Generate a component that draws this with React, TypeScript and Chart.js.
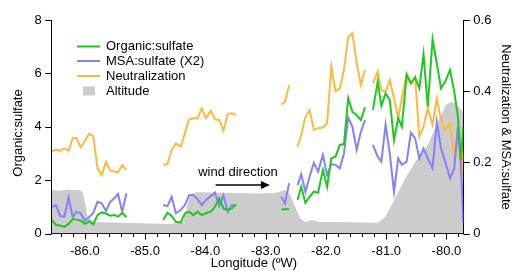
import React, { useEffect, useRef } from "react";
import { Chart, registerables } from "chart.js";

Chart.register(...registerables);

// Longitude (ºW) of the aircraft samples; null values in the series break the lines
const longitude = [
  -86.55, -86.48, -86.41, -86.34, -86.27, -86.2, -86.14, -86.07, -86.0, -85.93,
  -85.86, -85.79, -85.72, -85.65, -85.58, -85.51, -85.45, -85.38, -85.31,
  -85.0,
  -84.7, -84.63, -84.56, -84.49, -84.41, -84.34, -84.27, -84.2, -84.13, -84.06,
  -83.99, -83.91, -83.84, -83.77, -83.7, -83.63, -83.56, -83.49,
  -83.1,
  -82.74, -82.68, -82.61,
  -82.54,
  -82.47, -82.41, -82.34, -82.27, -82.2, -82.13, -82.05, -81.98, -81.91, -81.84,
  -81.77, -81.7, -81.63, -81.56, -81.49, -81.42, -81.35,
  -81.28,
  -81.22, -81.14, -81.08, -81.01, -80.94, -80.87, -80.8, -80.74, -80.66, -80.59,
  -80.52, -80.45, -80.38, -80.31, -80.23, -80.16, -80.09, -80.02, -79.94, -79.87,
  -79.81, -79.76, -79.72,
];

const organicSulfate = [
  0.51, 0.32, 0.3, 0.25, 0.36, 0.54, 0.52, 0.49, 0.36, 0.45,
  0.34, 0.69, 0.79, 0.75, 0.67, 0.69, 0.63, 0.78, 0.61,
  null,
  0.51, 0.78, 0.66, 0.44, 0.41, 0.76, 0.82, 0.69, 0.82, 0.69,
  0.76, 0.82, 1.0, 1.32, 0.94, 0.88, 0.94, 1.1,
  null,
  0.91, 0.91, 0.91,
  null,
  1.26, 1.75, 1.15, 1.38, 1.57, 1.53, 2.38, 1.75, 2.82, 2.88,
  3.32, 3.35, 5.07, 4.56, 4.44, 4.25, 4.73,
  null,
  4.63, 5.69, 4.78, 5.25, 5.0, 3.5, 4.32, 4.0, 5.94, 5.63,
  5.85, 5.44, 6.72, 4.75, 7.28, 6.38, 5.44, 5.69, 6.13, 5.31,
  4.38, 2.75, 4.0,
];

const msaSulfateX2 = [
  0.074, 0.08, 0.049, 0.047, 0.101, 0.046, 0.061, 0.057, 0.036, 0.046,
  0.058, 0.089, 0.085, 0.063, 0.089, 0.099, 0.111, 0.061, 0.113,
  null,
  0.08, 0.077, 0.103, 0.057, 0.066, 0.08, 0.108, 0.108, 0.096, 0.08,
  0.094, 0.105, 0.115, 0.077, 0.108, 0.061, 0.08, 0.077,
  null,
  0.103, 0.085, 0.141,
  null,
  0.136, 0.167, 0.117, 0.16, 0.199, 0.174, 0.221, 0.164, 0.195, 0.193,
  0.183, 0.225, 0.326, 0.3, 0.235, 0.286, 0.319,
  null,
  0.249, 0.216, 0.202, 0.305, 0.225, 0.117, 0.211, 0.193, 0.202, 0.283,
  0.268, 0.211, 0.239, 0.211, 0.183, 0.314, 0.239, 0.202, 0.155, 0.183,
  0.3, 0.197, 0.029,
];

const neutralization = [
  0.232, 0.235, 0.233, 0.239, 0.233, 0.268, 0.269, 0.242, 0.26, 0.28,
  0.274, 0.183, 0.164, 0.201, 0.177, 0.174, 0.172, 0.192, 0.178,
  null,
  0.193, 0.195, 0.235, 0.253, 0.244, 0.282, 0.321, 0.324, 0.324, 0.352,
  0.324, 0.345, 0.321, 0.319, 0.289, 0.336, 0.338, 0.333,
  null,
  0.363, 0.37, 0.417,
  null,
  0.244, 0.277, 0.328, 0.347, 0.291, 0.296, 0.298, 0.31, 0.469, 0.399,
  0.408, 0.46, 0.552, 0.563, 0.48, 0.417, 0.461,
  null,
  0.422, 0.455, 0.403, 0.399, 0.431, 0.38, 0.324, 0.38, 0.45, 0.422,
  0.44, 0.272, 0.3, 0.352, 0.305, 0.38, 0.319, 0.291, 0.31, 0.216,
  0.291, 0.16, 0.227,
];

// Altitude profile (drawn in left-axis units)
const altitudeLon = [
  -86.55, -86.42, -86.3, -86.08, -86.03, -85.95, -85.83, -85.25, -84.59, -84.37,
  -84.26, -84.16, -83.6, -83.1, -82.83, -82.68, -82.6, -82.43, -82.35, -82.23,
  -82.1, -81.77, -81.4, -81.14, -81.03, -80.86, -80.7, -80.53, -80.31, -80.14,
  -80.01, -79.93, -79.86, -79.76, -79.72,
];
const altitude = [
  1.63, 1.6, 1.64, 1.63, 1.52, 0.58, 0.43, 0.39, 0.36, 0.43,
  1.4, 1.55, 1.52, 1.5, 1.52, 1.63, 1.48, 0.58, 0.43, 0.51,
  0.43, 0.43, 0.41, 0.4, 0.58, 1.26, 2.0, 2.64, 3.32, 4.18,
  4.81, 4.93, 4.89, 4.66, 4.55,
];

const xTickValues = [-86, -85, -84, -83, -82, -81, -80];
const leftTickValues = [0, 2, 4, 6, 8];
const rightTickValues = [0, 0.2, 0.4, 0.6];

const seriesLabels = ["Organic:sulfate", "MSA:sulfate (X2)", "Neutralization", "Altitude"];
const seriesColors = ["#1ec81e", "#8282ff", "#ffb840", "#cccccc"];

// wind-direction annotation (data coordinates)
const windText = "wind direction";
const windTextLon = -84.12;
const windTextVal = 2.14;
const windArrowFromLon = -83.83;
const windArrowToLon = -82.93;
const windArrowVal = 1.82;

const FONT = "'Liberation Sans', Arial, Helvetica, sans-serif";

const pts = (xs: number[], ys: (number | null)[]) => xs.map((x, i) => ({ x, y: ys[i] }));

const decorPlugin = {
  id: "decor",
  afterDatasetsDraw(chart: any) {
    const ctx = chart.ctx;
    const xs = chart.scales.x;
    const ys = chart.scales.y;
    ctx.save();
    ctx.fillStyle = "#000";
    ctx.strokeStyle = "#000";
    ctx.font = `13px ${FONT}`;
    ctx.textAlign = "left";
    ctx.textBaseline = "alphabetic";
    ctx.fillText(windText, xs.getPixelForValue(windTextLon), ys.getPixelForValue(windTextVal));
    const ax0 = xs.getPixelForValue(windArrowFromLon);
    const ax1 = xs.getPixelForValue(windArrowToLon);
    const ay = ys.getPixelForValue(windArrowVal);
    ctx.lineWidth = 1.5;
    ctx.beginPath();
    ctx.moveTo(ax0, ay);
    ctx.lineTo(ax1 - 6, ay);
    ctx.stroke();
    ctx.beginPath();
    ctx.moveTo(ax1, ay);
    ctx.lineTo(ax1 - 9, ay - 4);
    ctx.lineTo(ax1 - 9, ay + 4);
    ctx.closePath();
    ctx.fill();
    ctx.restore();
  },
  afterDraw(chart: any) {
    const ctx = chart.ctx;
    const ca = chart.chartArea;
    const xs = chart.scales.x;
    const ys = chart.scales.y;
    const y1 = chart.scales.y1;
    ctx.save();
    ctx.strokeStyle = "#000";
    ctx.lineWidth = 1;
    // x tick marks: minor every 0.2, major at integers
    for (let k = -432; k <= -399; k++) {
      const v = k / 5;
      if (v < xs.min || v > xs.max) continue;
      const px = Math.round(xs.getPixelForValue(v)) + 0.5;
      const major = k % 5 === 0;
      ctx.beginPath();
      ctx.moveTo(px, ca.bottom);
      ctx.lineTo(px, ca.bottom + (major ? 6 : 3.5));
      ctx.stroke();
    }
    for (const v of leftTickValues) {
      const py = Math.round(ys.getPixelForValue(v)) + 0.5;
      ctx.beginPath();
      ctx.moveTo(ca.left, py);
      ctx.lineTo(ca.left - 6.5, py);
      ctx.stroke();
    }
    for (const v of rightTickValues) {
      const py = Math.round(y1.getPixelForValue(v)) + 0.5;
      ctx.beginPath();
      ctx.moveTo(ca.right, py);
      ctx.lineTo(ca.right + 6.5, py);
      ctx.stroke();
    }
    // axis titles
    ctx.fillStyle = "#000";
    ctx.font = `13px ${FONT}`;
    ctx.textAlign = "center";
    ctx.textBaseline = "middle";
    ctx.save();
    ctx.translate(18, 133);
    ctx.rotate(-Math.PI / 2);
    ctx.fillText("Organic:sulfate", 0, 0);
    ctx.restore();
    ctx.save();
    ctx.translate(506, 127);
    ctx.rotate(Math.PI / 2);
    ctx.fillText("Neutralization & MSA:sulfate", 0, 0);
    ctx.restore();
    ctx.textBaseline = "alphabetic";
    ctx.fillText("Longitude (ºW)", 254, 267);
    // legend
    const rows = [46.5, 61, 76, 91];
    ctx.textAlign = "left";
    ctx.textBaseline = "middle";
    for (let i = 0; i < 4; i++) {
      if (i < 3) {
        ctx.strokeStyle = seriesColors[i];
        ctx.lineWidth = 2;
        ctx.beginPath();
        ctx.moveTo(77, rows[i]);
        ctx.lineTo(100, rows[i]);
        ctx.stroke();
      } else {
        ctx.fillStyle = seriesColors[i];
        ctx.fillRect(83, rows[i] - 4.5, 12, 9);
      }
      ctx.fillStyle = "#000";
      ctx.fillText(seriesLabels[i], 106, rows[i]);
    }
    ctx.restore();
  },
};

export default function App() {
  const ref = useRef<HTMLCanvasElement | null>(null);
  useEffect(() => {
    if (!ref.current) return;
    const tickFont = { family: FONT, size: 13 };
    const chart = new Chart(ref.current, {
      type: "line",
      data: {
        datasets: [
          {
            label: seriesLabels[0],
            data: pts(longitude, organicSulfate),
            borderColor: seriesColors[0],
            yAxisID: "y",
          },
          {
            label: seriesLabels[1],
            data: pts(longitude, msaSulfateX2),
            borderColor: seriesColors[1],
            yAxisID: "y1",
          },
          {
            label: seriesLabels[2],
            data: pts(longitude, neutralization),
            borderColor: seriesColors[2],
            yAxisID: "y1",
          },
          {
            label: seriesLabels[3],
            data: pts(altitudeLon, altitude),
            borderColor: seriesColors[3],
            backgroundColor: seriesColors[3],
            borderWidth: 0,
            fill: "origin",
            yAxisID: "y",
          },
        ] as any,
      },
      options: {
        animation: false,
        responsive: false,
        spanGaps: false,
        layout: { padding: { top: 20, left: 0, right: 0, bottom: 0 } },
        elements: {
          point: { radius: 0 },
          line: { tension: 0, borderWidth: 2, fill: false },
        },
        plugins: { legend: { display: false }, tooltip: { enabled: false } },
        scales: {
          x: {
            type: "linear",
            min: -86.55,
            max: -79.72,
            grid: { display: false, drawTicks: false },
            border: { display: true, color: "#000", width: 1 },
            afterBuildTicks: (s: any) => {
              s.ticks = xTickValues.map((v) => ({ value: v }));
            },
            ticks: {
              autoSkip: false,
              maxRotation: 0,
              padding: 10,
              color: "#000",
              font: tickFont,
              callback: (v: any) => Number(v).toFixed(1),
            },
            afterFit: (s: any) => {
              s.height = 37.5;
            },
          },
          y: {
            position: "left",
            min: 0,
            max: 8,
            grid: { display: false, drawTicks: false },
            border: { display: true, color: "#000", width: 1 },
            afterBuildTicks: (s: any) => {
              s.ticks = leftTickValues.map((v) => ({ value: v }));
            },
            ticks: {
              padding: 10,
              color: "#000",
              font: tickFont,
              callback: (v: any) => String(v),
            },
            afterFit: (s: any) => {
              s.width = 51.7;
            },
          },
          y1: {
            position: "right",
            min: 0,
            max: 0.6,
            grid: { display: false, drawTicks: false },
            border: { display: true, color: "#000", width: 1 },
            afterBuildTicks: (s: any) => {
              s.ticks = rightTickValues.map((v) => ({ value: v }));
            },
            ticks: {
              padding: 10,
              color: "#000",
              font: tickFont,
              callback: (v: any) => (Number(v) === 0 ? "0" : Number(v).toFixed(1)),
            },
            afterFit: (s: any) => {
              s.width = 51.7;
            },
          },
        },
      } as any,
      plugins: [decorPlugin],
    });
    return () => chart.destroy();
  }, []);
  return (
    <div style={{ position: "fixed", left: 0, top: 0, width: 515, height: 271, background: "#fff" }}>
      <canvas ref={ref} width={515} height={271} style={{ display: "block" }} />
    </div>
  );
}
